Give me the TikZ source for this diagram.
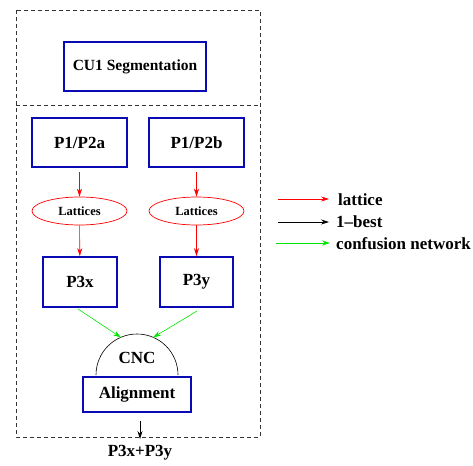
\documentclass[tikz,border=0pt]{standalone}
\usepackage{fontspec}
\setmainfont{Liberation Serif}
\usetikzlibrary{arrows.meta,shapes.geometric}
\definecolor{boxblue}{RGB}{10,10,180}
\definecolor{arrgreen}{RGB}{0,230,0}
\tikzset{
  x=1pt,y=-1pt,
  blk/.style={draw=boxblue,line width=1.8pt,inner sep=0pt,font=\fontsize{17}{19}\selectfont\bfseries},
  lat/.style={draw=red,ellipse,line width=0.7pt,inner sep=0pt,minimum width=95,minimum height=28,font=\fontsize{12.5}{14}\selectfont\bfseries},
  ar/.style={-{Stealth[length=8pt,width=5pt]},line width=0.6pt},
  lbl/.style={font=\fontsize{17}{19}\selectfont\bfseries,inner sep=0pt,anchor=west},
  frame/.style={dashed,dash pattern=on 4pt off 3pt,line width=0.7pt,draw=black!80}
}
\begin{document}
\begin{tikzpicture}
\useasboundingbox (0,0) rectangle (473,465);
% frame
\draw[frame] (16,10) rectangle (260,437);
\draw[frame] (16,105) -- (260,105);
% boxes
\node[blk,minimum width=142,minimum height=49,font=\fontsize{15.5}{17}\selectfont\bfseries] (cu1) at (135,66.5) {CU1 Segmentation};
\node[blk,minimum width=95,minimum height=49] (pa) at (79.5,142.5) {P1/P2a};
\node[blk,minimum width=95,minimum height=49] (pb) at (196.5,142.5) {P1/P2b};
\node[lat] (la) at (79.5,211) {Lattices};
\node[lat] (lb) at (196.5,211) {Lattices};
\node[blk,minimum width=74,minimum height=50] (px) at (80,282) {P3x};
\node[blk,minimum width=73,minimum height=50] (py) at (196.5,282) {P3y};
\node[blk,minimum width=108,minimum height=35] (al) at (137,394.5) {Alignment};
\draw[line width=0.6pt] (96,375) arc (180:360:41);
\node[font=\fontsize{17}{19}\selectfont\bfseries,inner sep=0pt] (cnc) at (137,358) {CNC};
\coordinate (ca) at (121,337.5);
\coordinate (cb) at (153,337.5);
% arrows
\coordinate (pa0) at (79.5,172);
\coordinate (pb0) at (196.5,172);
\draw[ar,red] (pa0) -- (la);
\draw[ar,red] (pb0) -- (lb);
\draw[ar,red] (la) -- (px);
\draw[ar,red] (lb) -- (py);
\coordinate (px0) at (78,309);
\coordinate (py0) at (197,311);
\draw[ar,arrgreen] (px0) -- (ca);
\draw[ar,arrgreen] (py0) -- (cb);
\node[font=\fontsize{17}{19}\selectfont\bfseries,inner sep=0pt] (out) at (140,453) {P3x+P3y};
\coordinate (o1) at (140,421);
\coordinate (o2) at (140,439);
\draw[ar,black] (o1) -- (o2);
% legend
\node[lbl] (l1) at (338,200) {lattice};
\node[lbl] (l2) at (336,222) {1\textendash best};
\node[lbl] (l3) at (336,244) {confusion network};
\coordinate (s1) at (278,199);
\coordinate (s2) at (278,222);
\coordinate (s3) at (276,243);
\coordinate (e1) at (329,199);
\coordinate (e2) at (329,222);
\coordinate (e3) at (330,243);
\draw[ar,red] (s1) -- (e1);
\draw[ar,black] (s2) -- (e2);
\draw[ar,arrgreen] (s3) -- (e3);
\end{tikzpicture}
\end{document}
